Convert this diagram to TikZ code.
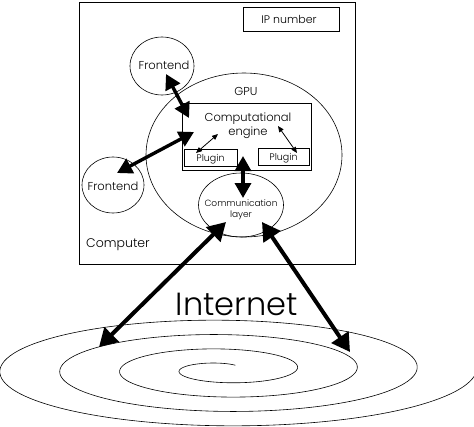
\documentclass[tikz,border=0pt]{standalone}
\usepackage{fontspec}
\setmainfont{Poppins}[UprightFont={* Light}]
\usetikzlibrary{arrows.meta,shapes.geometric}
\begin{document}
\begin{tikzpicture}[x=1pt,y=-1pt,
  thinln/.style={line width=0.6pt},
  ell/.style={draw, thinln, ellipse, inner sep=0pt},
  box/.style={draw, thinln, rectangle, inner sep=0pt},
  lbl/.style={inner sep=0pt, anchor=base},
  bigarrow/.style={line width=3.4pt, {Triangle[length=15pt,width=16pt]}-{Triangle[length=15pt,width=16pt]}},
  netarrow/.style={line width=4pt, {Triangle[length=18pt,width=20pt]}-{Triangle[length=18pt,width=20pt]}},
  smallarrow/.style={line width=0.8pt, {Triangle[length=6pt,width=5pt]}-{Triangle[length=6pt,width=5pt]}}]
\useasboundingbox (0,0) rectangle (474,426);
\fill[white] (0,0) rectangle (474,426);
% boxes and ellipses
\node[box, minimum width=276pt, minimum height=262pt] (comp) at (217,133) {};
\node[box, minimum width=96pt, minimum height=24pt] (ipbox) at (291,19) {};
\node[ell, minimum width=196pt, minimum height=164pt] (gpu) at (244,155) {};
\node[ell, minimum width=64pt, minimum height=58pt] (fe1) at (162,66) {};
\node[ell, minimum width=62pt, minimum height=56pt] (fe2) at (113,185) {};
\node[box, minimum width=129pt, minimum height=67pt] (engine) at (246.5,136.5) {};
\node[box, minimum width=53pt, minimum height=17pt] (plugL) at (210.5,157.5) {};
\node[box, minimum width=51pt, minimum height=17pt] (plugR) at (283.5,156.5) {};
\node[ell, minimum width=85pt, minimum height=64pt] (comm) at (241,205) {};
% labels
\node[lbl, font=\fontsize{11}{13}\selectfont] (tip) at (289,23) {IP number};
\node[lbl, font=\fontsize{11.5}{13}\selectfont] (tfe1) at (164,69) {Frontend};
\node[lbl, font=\fontsize{11.5}{14}\selectfont] (tgpu) at (246,95) {GPU};
\node[lbl, font=\fontsize{11.5}{13}\selectfont] (tce1) at (248,121) {Computational};
\node[lbl, font=\fontsize{11.5}{13}\selectfont] (tce2) at (248,135) {engine};
\node[lbl, font=\fontsize{9.5}{11}\selectfont] (tpl) at (210.5,161) {Plugin};
\node[lbl, font=\fontsize{9.5}{11}\selectfont] (tpr) at (283.5,160) {Plugin};
\node[lbl, font=\fontsize{11.5}{14}\selectfont] (tfe2) at (113,190) {Frontend};
\node[lbl, font=\fontsize{9}{10}\selectfont] (tcm1) at (241,206) {Communication};
\node[lbl, font=\fontsize{9}{10}\selectfont] (tcm2) at (241,217) {layer};
\node[lbl, font=\fontsize{12.5}{14}\selectfont] (tcomp) at (118,247) {Computer};
\node[lbl, font=\fontsize{32}{34}\selectfont] (tnet) at (237,315) {Internet};
% spiral
\begin{scope}
\clip (0,0) rectangle (474,426);
\draw[thinln] plot[domain=60:1445, samples=500, smooth, variable=\t]
  ({223.5 + (\t/6+13.5)*cos(\t)}, {369.4 - (0.04*\t+2.4)*sin(\t)});
\end{scope}
% arrow end points
\coordinate (a1) at (166,74);
\coordinate (a2) at (189,118);
\coordinate (b1) at (117,173);
\coordinate (b2) at (194,132);
\coordinate (c1) at (243,156);
\coordinate (c2) at (243,198);
\coordinate (d1) at (226,222);
\coordinate (d2) at (99,347);
\coordinate (e1) at (262,222);
\coordinate (e2) at (350,352);
\coordinate (f1) at (196,153);
\coordinate (f2) at (218,134);
\coordinate (g1) at (278,126);
\coordinate (g2) at (297,153);
\draw[bigarrow] (a1) -- (a2);
\draw[bigarrow] (b1) -- (b2);
\draw[bigarrow] (c1) -- (c2);
\draw[netarrow] (d1) -- (d2);
\draw[netarrow] (e1) -- (e2);
\draw[smallarrow] (f1) -- (f2);
\draw[smallarrow] (g1) -- (g2);
\end{tikzpicture}
\end{document}
